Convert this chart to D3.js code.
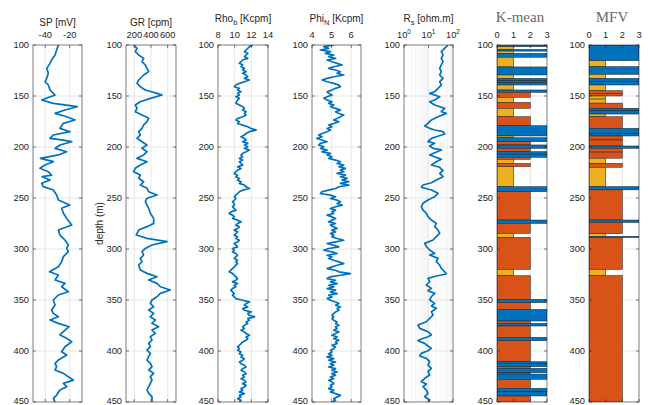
<!DOCTYPE html>
<html><head><meta charset="utf-8">
<script src="https://cdn.jsdelivr.net/npm/d3@7"></script>
<style>
body{margin:0;background:#fff;}
svg{display:block;font-family:"Liberation Sans",Arial,Helvetica,sans-serif;}
</style>
</head><body>
<svg id="chart" width="648" height="405"></svg>
<script>
// ---------------- DATA ----------------
const depthTicks = [100,150,200,250,300,350,400,450];
const spTicks = [-40,-20];
const grTicks = [200,400,600];
const rhoTicks = [8,10,12,14];
const phiTicks = [4,5,6];
const rsTicks = [1,10,100];
const classTicks = [0,1,2,3];
const classColors = {1:"#EDB120", 2:"#D95319", 3:"#0072BD"};

// SP log (depth m, mV)
const spDepth = [100,104.9,109.8,114.7,118,122.9,127.8,132.7,136,139.2,144.1,149,153.9,157.2,160.5,163.7,167,170.3,173.5,176.8,181.7,185,188.2,191.5,193.1,194.8,198,201.3,204.6,207.8,211.1,214.4,217.6,220.9,224.2,227.5,229.1,232.4,235.6,238.9,242.2,247.1,252,256.9,260.1,265,270,276.5,281.4,286.3,291.2,296.1,299.4,302.6,307.5,312.4,317.4,322.3,325.5,330.4,333.7,337,341.9,345.1,350,354.9,359.8,363.1,366.4,369.6,372.9,376.2,381.1,384.3,387.6,390.9,395.8,400.7,404,408.9,412.1,415.4,418.7,421.9,425.2,428.5,431.7,435,438.3,443.2,446.4,450];
const spValues = [-29.3,-30.7,-32.0,-34.8,-36.1,-38.8,-37.5,-38.8,-40.2,-37.5,-36.1,-32.0,-42.9,-33.4,-13.8,-23.9,-32.0,-22.5,-15.7,-25.2,-28.0,-19.8,-33.4,-36.1,-26.6,-18.4,-28.0,-32.0,-22.5,-29.3,-44.0,-33.4,-40.2,-44.3,-37.5,-34.8,-42.5,-36.1,-42.9,-41.6,-33.4,-30.7,-29.3,-20.0,-26.6,-25.2,-22.5,-18.4,-29.3,-28.0,-23.9,-21.2,-22.5,-21.2,-25.2,-26.6,-29.3,-36.5,-29.3,-32.0,-23.9,-26.6,-21.2,-29.3,-33.4,-32.0,-34.8,-33.4,-29.3,-36.1,-29.3,-20.5,-25.2,-28.0,-22.5,-18.4,-23.9,-26.6,-22.5,-29.3,-32.0,-30.7,-32.0,-25.2,-21.2,-17.1,-25.2,-22.5,-28.0,-30.7,-33.4,-32.0];

// GR log (depth m, cpm)
const grDepth = [100,103.3,106.5,109.8,113.1,116.3,119.6,122.9,126.1,129.4,134.3,137.6,140.9,144.1,147.4,149,152.3,155.6,158.8,162.1,165.4,168.6,171.9,175.2,178.4,181.7,185,188.2,191.5,194.8,198,201.3,204.6,207.8,211.1,214.4,217.6,220.9,224.2,227.5,230.7,234,237.3,240.5,243.8,247.1,250.3,253.6,256.9,260.1,265,270,274.9,278.1,281.4,284.7,286.3,289.6,292.8,296.1,299.4,302.6,305.9,309.2,312.4,315.7,320.6,323.9,327.2,330.4,333.7,337,340.2,343.5,346.8,350,353.3,356.6,359.8,363.1,366.4,369.6,372.9,376.2,379.4,382.7,386,389.2,392.5,395.8,399.1,402.3,405.6,408.9,412.1,415.4,418.7,421.9,425.2,428.5,431.7,435,438.3,441.5,444.8,449.7];
const grValues = [192,232,212,252,312,292,332,352,372,312,252,232,272,332,472,532,392,272,212,232,212,292,372,352,312,292,252,272,232,292,352,292,352,312,232,352,272,212,192,272,252,312,272,352,372,472,352,332,352,372,392,432,432,352,252,232,224,352,592,412,332,292,312,272,292,252,272,352,472,372,472,512,632,512,472,412,392,432,372,432,392,452,412,492,412,452,392,412,372,392,352,392,372,352,392,412,372,432,392,412,392,372,352,372,412,412];

// Rho_b and Phi_N share a regular depth sampling (m)
const depthFine = [100.0,101.6,103.3,104.9,106.5,108.2,109.8,111.4,113.1,114.7,116.4,118.0,119.6,121.3,122.9,124.5,126.2,127.8,129.4,131.1,132.7,134.3,136.0,137.6,139.3,140.9,142.5,144.2,145.8,147.4,149.1,150.7,152.3,154.0,155.6,157.2,158.9,160.5,162.1,163.8,165.4,167.1,168.7,170.3,172.0,173.6,175.2,176.9,178.5,180.1,181.8,183.4,185.0,186.7,188.3,190.0,191.6,193.2,194.9,196.5,198.1,199.8,201.4,203.0,204.7,206.3,207.9,209.6,211.2,212.8,214.5,216.1,217.8,219.4,221.0,222.7,224.3,225.9,227.6,229.2,230.8,232.5,234.1,235.7,237.4,239.0,240.7,242.3,243.9,245.6,247.2,248.8,250.5,252.1,253.7,255.4,257.0,258.6,260.3,261.9,263.6,265.2,266.8,268.5,270.1,271.7,273.4,275.0,276.6,278.3,279.9,281.5,283.2,284.8,286.4,288.1,289.7,291.4,293.0,294.6,296.3,297.9,299.5,301.2,302.8,304.4,306.1,307.7,309.3,311.0,312.6,314.3,315.9,317.5,319.2,320.8,322.4,324.1,325.7,327.3,329.0,330.6,332.2,333.9,335.5,337.1,338.8,340.4,342.1,343.7,345.3,347.0,348.6,350.2,351.9,353.5,355.1,356.8,358.4,360.0,361.7,363.3,365.0,366.6,368.2,369.9,371.5,373.1,374.8,376.4,378.0,379.7,381.3,382.9,384.6,386.2,387.9,389.5,391.1,392.8,394.4,396.0,397.7,399.3,400.9,402.6,404.2,405.8,407.5,409.1,410.8,412.4,414.0,415.7,417.3,418.9,420.6,422.2,423.8,425.5,427.1,428.7,430.4,432.0,433.7,435.3,436.9,438.6,440.2,441.8,443.5,445.1,446.7,448.4,450.0];
const rhoValues = [12.18,11.77,11.57,11.37,11.17,11.57,11.37,11.17,11.57,10.96,10.76,10.56,10.96,10.76,11.17,10.96,11.37,10.96,11.37,11.57,11.17,11.77,11.17,10.56,10.15,9.95,10.56,10.35,10.76,10.35,10.56,10.15,10.56,10.35,10.23,10.15,10.56,10.96,11.17,10.96,11.37,11.17,11.37,10.96,10.35,10.15,10.56,10.35,10.96,11.57,11.98,12.58,11.77,11.37,11.17,10.76,11.17,11.37,10.96,11.57,11.17,11.57,11.17,11.77,11.37,10.96,10.76,10.96,10.56,10.96,10.56,10.76,10.96,10.35,10.76,10.35,10.15,9.95,10.35,10.15,10.56,10.35,10.76,10.56,11.17,11.37,11.77,10.96,10.56,10.35,10.15,9.95,10.15,9.95,9.74,9.95,9.95,9.74,9.95,10.15,9.54,9.34,9.74,9.95,9.74,
10.35,10.76,10.35,10.15,10.56,10.35,9.95,10.35,10.15,9.95,10.35,10.15,10.56,10.35,9.95,10.15,10.35,9.74,9.95,9.74,10.15,10.35,10.15,9.95,10.35,10.15,10.35,10.15,9.95,9.74,9.54,9.34,9.74,9.95,10.15,10.35,10.15,9.74,10.35,9.95,10.15,9.74,9.54,9.74,9.95,9.74,9.95,10.15,10.96,11.77,11.37,11.17,11.57,10.96,11.17,11.98,11.57,11.77,12.38,11.57,11.77,11.37,11.57,11.17,10.96,11.17,10.76,11.17,11.37,11.77,11.37,11.57,11.37,10.96,10.76,10.56,10.35,10.56,10.35,10.76,10.56,10.96,10.76,11.17,10.96,10.56,10.76,11.17,11.37,10.96,10.76,11.17,11.37,10.96,11.17,10.76,11.17,11.37,10.96,11.37,11.17,10.76,10.96,10.56,11.17,10.56,10.76,10.35,10.76,10.56];
const phiValues = [5.11,4.60,4.85,4.43,4.94,4.68,5.11,4.85,5.20,4.77,5.02,5.28,5.54,5.11,4.85,5.20,5.45,5.28,5.62,5.11,4.77,4.51,4.77,5.11,5.37,5.45,5.20,5.02,4.77,4.85,5.02,4.77,4.60,4.77,5.02,4.85,5.11,4.94,5.20,5.45,5.20,5.37,5.62,5.45,5.28,5.11,5.37,5.11,4.85,5.02,4.77,4.94,4.77,4.51,4.34,4.51,4.25,4.51,4.77,4.43,4.34,4.60,4.43,4.77,4.51,4.94,4.77,5.02,4.85,5.20,5.45,5.28,5.62,5.37,5.71,5.45,5.62,5.28,5.71,5.45,5.79,5.54,5.88,5.45,5.88,5.37,5.20,4.85,4.51,4.43,4.94,5.20,4.94,5.28,5.45,5.28,5.54,5.20,4.94,5.20,5.02,5.11,4.77,5.02,5.20,
5.02,4.85,5.20,4.94,5.11,5.28,5.02,5.20,4.94,5.11,5.02,5.28,5.62,5.20,4.77,5.11,5.37,4.85,4.60,5.02,5.28,4.77,5.02,4.85,5.11,5.37,5.62,5.28,5.02,4.77,5.20,5.37,5.96,5.45,4.94,4.77,5.20,4.94,5.28,4.85,5.11,4.77,5.20,4.94,5.28,4.85,5.02,4.77,4.94,5.20,5.37,5.20,5.45,5.28,5.37,5.20,5.11,5.02,5.11,5.02,5.11,5.28,5.20,5.37,5.20,5.28,5.11,5.37,5.20,5.02,5.28,5.11,5.37,5.20,5.28,5.02,5.20,5.11,4.94,5.02,4.85,5.02,4.77,5.11,4.85,5.20,4.94,5.11,4.85,5.20,5.02,5.28,5.02,5.20,4.94,5.11,4.85,5.02,5.11,4.94,5.02,4.85,5.11,4.94,5.20,5.45,5.28,5.11,5.20,5.02];

// R_s log (depth m, ohm.m)
const rsDepth = [100,103.3,106.5,109.8,113.1,116.3,119.6,122.9,126.1,129.4,132.7,136,139.2,142.5,145.8,147.4,150.7,153.9,155.6,158.8,162.1,165.4,167,170.3,173.5,176.8,179.4,181.7,183.3,185,187.3,189.9,191.5,194.8,196.4,199,201.3,202.9,205.6,207.8,209.5,212.1,214.4,217.6,219.9,223.2,225.8,229.1,232.4,235,237.3,239.5,242.2,245.4,248.7,252,255.2,258.5,261.8,265,268.3,271.6,274.9,278.1,281.4,284.7,287.9,291.2,294.5,297.7,301,304.3,305.9,309.2,312.4,315.7,319,322.3,324.5,326.5,328.8,332.1,335.3,338.6,340.9,343.5,346.8,350,353.3,355.9,358.2,361.5,364.7,368,371.3,374.5,377.8,381.1,384.3,386,388.3,389.9,392.5,395.1,397.4,399.7,402.3,404.9,407.2,410.5,413.8,417,420.3,423.6,426.8,430.1,432.4,435,438.3,441.5,444.8,448.1,450];
const rsValues = [62.5,45.7,33.4,39.1,33.4,39.1,33.4,28.6,33.4,28.6,39.1,28.6,33.4,24.4,17.9,11.2,28.6,17.9,11.2,17.9,45.7,33.4,53.5,24.4,13.1,9.5,7.0,11.2,17.9,39.1,45.7,20.9,13.1,9.5,17.9,11.2,15.3,33.4,17.9,11.2,17.9,33.4,20.9,13.1,28.6,39.1,28.6,39.1,20.9,13.1,6.0,5.1,13.1,24.4,17.9,9.5,6.0,5.1,6.0,8.2,9.5,13.1,20.9,17.9,24.4,28.6,20.9,15.3,7.0,8.2,11.2,17.9,11.2,24.4,20.9,28.6,33.4,45.7,53.5,20.9,9.5,11.2,8.2,13.1,9.5,17.9,13.1,11.2,17.9,13.1,20.9,13.1,15.3,11.2,8.2,3.7,4.4,9.5,13.1,9.5,5.1,3.7,7.0,9.5,13.1,9.5,5.1,4.4,8.2,11.2,9.5,13.1,9.5,11.2,7.0,5.1,8.2,6.0,8.2,9.5,7.0,11.2,9.5];

// Classified intervals: [top depth, bottom depth, class]
const kmeanIntervals = [[100,101.6,3],[101.6,104.3,1],[104.3,106,3],[106,108.2,1],[108.2,112,3],[112,121.5,1],[121.5,129.4,3],[129.4,132.7,1],[132.7,135,3],[135,137,3],[137,139.2,3],[139.2,144.1,1],[144.1,146.4,3],[146.4,151.3,2],[151.3,156.2,1],[156.2,162.1,2],[162.1,170.3,1],[170.3,179.1,2],[179.1,189.2,3],[189.2,190.9,1],[190.9,194.8,3],[194.8,198,2],[198,201.3,3],[201.3,204.6,2],[204.6,207,3],[207,210.1,3],[210.1,212.1,2],[212.1,216.1,1],[216.1,219.3,2],[219.3,238.9,1],[238.9,243.8,3],[243.8,271.6,2],[271.6,274.9,3],[274.9,284.7,2],[284.7,288.6,1],[288.6,320,2],[320,326.2,1],[326.2,349.4,2],[349.4,352.6,3],[352.6,359.2,2],[359.2,370.6,3],[370.6,372.9,2],[372.9,375.5,3],[375.5,386.6,2],[386.6,389.9,3],[389.9,410.5,2],[410.5,412.5,3],[412.5,415.4,3],[415.4,417,2],[417,421.3,3],[421.3,422.6,2],[422.6,427.8,3],[427.8,436.6,2],[436.6,440,3],[440,444.1,3],[444.1,450,2]];
const mfvIntervals = [[100,115.4,3],[115.4,121.2,1],[121.2,128.8,3],[128.8,132.7,1],[132.7,136,3],[136,139.2,3],[139.2,144.8,1],[144.8,147.4,2],[147.4,150,2],[150,153,1],[153,157,1],[157,162,2],[162,164.5,3],[164.5,167.7,3],[167.7,170.3,1],[170.3,181.7,2],[181.7,187,3],[187,189.2,3],[189.2,193.1,2],[193.1,199,2],[199,201.3,3],[201.3,205,2],[205,211,2],[211,216,1],[216,219.9,2],[219.9,238.8,1],[238.8,242,3],[242,271.6,2],[271.6,274,3],[274,285,2],[285,287.5,1],[287.5,288.8,3],[288.8,320,2],[320,326,1],[326,450,2]];

// ---------------- DRAWING ----------------
const svg = d3.select("#chart");
const y = d3.scaleLinear().domain([100,450]).range([45,402]);
const AX = "#262626";
const GRID = "#e1e1e1";

const panels = [
  {x0:33, x1:82, log:false, domain:[-50,-10], ticks:spTicks, title:[["SP [mV]"]], titleY:26, kind:"curve", depth:spDepth, values:spValues},
  {x0:126, x1:176, log:false, domain:[100,700], ticks:grTicks, title:[["GR [cpm]"]], titleY:26, kind:"curve", depth:grDepth, values:grValues, ylabel:true},
  {x0:218, x1:268, log:false, domain:[8,14], ticks:rhoTicks, title:[["Rho"],["b","sub"],[" [Kcpm]"]], titleY:22, kind:"curve", depth:depthFine, values:rhoValues},
  {x0:312, x1:361, log:false, domain:[4,6.5], ticks:phiTicks, title:[["Phi"],["N","sub"],[" [Kcpm]"]], titleY:22, kind:"curve", depth:depthFine, values:phiValues},
  {x0:404, x1:453, log:true, domain:[1,100], ticks:rsTicks, title:[["R"],["s","sub"],[" [ohm.m]"]], titleY:22, kind:"curve", depth:rsDepth, values:rsValues},
  {x0:497, x1:547, log:false, domain:[0,3], ticks:classTicks, serifTitle:"K-mean", kind:"bars", intervals:kmeanIntervals},
  {x0:589, x1:639, log:false, domain:[0,3], ticks:classTicks, serifTitle:"MFV", kind:"bars", intervals:mfvIntervals}
];

const defs = svg.append("defs");

panels.forEach((p, i) => {
  const x = (p.log ? d3.scaleLog() : d3.scaleLinear()).domain(p.domain).range([p.x0, p.x1]);
  const g = svg.append("g");
  const yTop = y(100), yBot = y(450);

  // minor log grid
  if (p.log) {
    const minors = [];
    [1,10].forEach(dec => { for (let k = 2; k <= 9; k++) minors.push(dec*k); });
    g.selectAll(".mg").data(minors).join("line")
      .attr("x1", d => x(d)).attr("x2", d => x(d)).attr("y1", yTop).attr("y2", yBot)
      .attr("stroke", "#ececec").attr("stroke-width", 0.6);
  }
  // grid
  g.selectAll(".gx").data(p.ticks.filter(t => x(t) > p.x0 + 0.5 && x(t) < p.x1 - 0.5)).join("line")
    .attr("x1", d => x(d)).attr("x2", d => x(d)).attr("y1", yTop).attr("y2", yBot)
    .attr("stroke", GRID).attr("stroke-width", 0.8);
  g.selectAll(".gy").data(depthTicks.slice(1, -1)).join("line")
    .attr("x1", p.x0).attr("x2", p.x1).attr("y1", d => y(d)).attr("y2", d => y(d))
    .attr("stroke", GRID).attr("stroke-width", 0.8);

  // clip
  defs.append("clipPath").attr("id", "clip" + i).append("rect")
    .attr("x", p.x0).attr("y", yTop).attr("width", p.x1 - p.x0).attr("height", yBot - yTop);

  const data = g.append("g").attr("clip-path", `url(#clip${i})`);
  if (p.kind === "curve") {
    const pts = p.depth.map((d, k) => [d, p.values[k]]);
    const line = d3.line().x(d => x(d[1])).y(d => y(d[0]));
    data.append("path").attr("d", line(pts)).attr("fill", "none")
      .attr("stroke", "#0072BD").attr("stroke-width", 1.7).attr("stroke-linejoin", "round");
  } else {
    data.selectAll("rect").data(p.intervals).join("rect")
      .attr("x", x(0)).attr("width", d => x(d[2]) - x(0))
      .attr("y", d => y(d[0])).attr("height", d => y(d[1]) - y(d[0]))
      .attr("fill", d => classColors[d[2]])
      .attr("stroke", "#1e1e1e").attr("stroke-width", 0.5);
  }

  // box
  g.append("rect").attr("x", p.x0).attr("y", yTop).attr("width", p.x1 - p.x0).attr("height", yBot - yTop)
    .attr("fill", "none").attr("stroke", AX).attr("stroke-width", 0.6);

  // tick marks (inward)
  const tl = 3;
  p.ticks.forEach(t => {
    const tx = x(t);
    g.append("line").attr("x1", tx).attr("x2", tx).attr("y1", yTop).attr("y2", yTop + tl).attr("stroke", AX).attr("stroke-width", 0.6);
    g.append("line").attr("x1", tx).attr("x2", tx).attr("y1", yBot).attr("y2", yBot - tl).attr("stroke", AX).attr("stroke-width", 0.6);
  });
  depthTicks.forEach(d => {
    g.append("line").attr("x1", p.x0).attr("x2", p.x0 + tl).attr("y1", y(d)).attr("y2", y(d)).attr("stroke", AX).attr("stroke-width", 0.6);
    g.append("line").attr("x1", p.x1).attr("x2", p.x1 - tl).attr("y1", y(d)).attr("y2", y(d)).attr("stroke", AX).attr("stroke-width", 0.6);
  });

  // x tick labels (top)
  p.ticks.forEach(t => {
    const tt = g.append("text").attr("x", x(t)).attr("y", 38).attr("text-anchor", "middle")
      .attr("font-size", 9.3).attr("fill", AX);
    if (p.log) {
      tt.append("tspan").text("10");
      tt.append("tspan").attr("dy", -4).attr("font-size", 6.5).text(String(Math.round(Math.log10(t))));
    } else {
      tt.text(String(t));
    }
  });

  // depth tick labels (baseline kept inside the 405 px frame)
  depthTicks.forEach(d => {
    g.append("text").attr("x", p.x0 - 4).attr("y", Math.min(y(d) + 3.2, 404))
      .attr("text-anchor", "end").attr("font-size", 9.3).attr("fill", AX).text(d);
  });

  // title
  const cx = (p.x0 + p.x1) / 2;
  if (p.serifTitle) {
    g.append("text").attr("x", cx - 2).attr("y", 22).attr("text-anchor", "middle")
      .attr("font-family", "'Liberation Serif','Times New Roman',serif").attr("font-size", 15)
      .attr("fill", "#6b6b6b").text(p.serifTitle);
  } else {
    const tt = g.append("text").attr("x", cx).attr("y", p.titleY).attr("text-anchor", "middle")
      .attr("font-size", 10).attr("fill", AX);
    p.title.forEach(part => {
      if (part[1] === "sub") {
        tt.append("tspan").attr("dy", 3).attr("font-size", 7.5).text(part[0]);
      } else {
        const s = tt.append("tspan").text(part[0]);
        if (tt.selectAll("tspan").size() > 1) s.attr("dy", -3);
      }
    });
  }

  if (p.ylabel) {
    svg.append("text").attr("transform", `translate(99,${(yTop + yBot) / 2}) rotate(-90)`)
      .attr("text-anchor", "middle").attr("dy", "0.35em").attr("font-size", 10).attr("fill", AX)
      .text("depth (m)");
  }
});
</script>
</body></html>
